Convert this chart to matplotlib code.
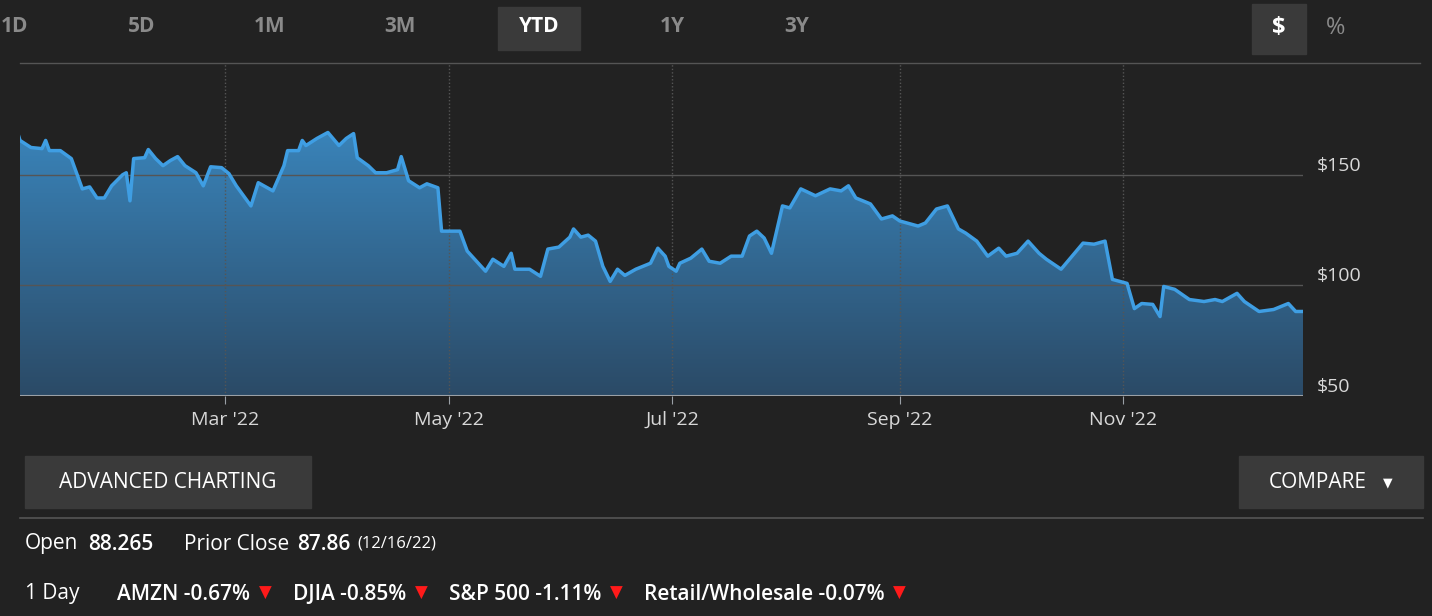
import matplotlib
matplotlib.use("Agg")
import matplotlib.pyplot as plt
import numpy as np
import datetime as dt
from matplotlib.patches import Rectangle
import matplotlib.dates as mdates
from matplotlib.colors import LinearSegmentedColormap

plt.rcParams['font.family'] = ['Open Sans', 'DejaVu Sans']

day_of_year = [3,4,7,10,11,12,15,18,21,23,25,27,29,32,33,34,35,38,39,41,43,45,47,49,52,54,56,59,61,63,67,69,73,76,77,80,81,82,85,88,91,93,95,96,99,101,104,107,108,110,113,115,118,119,124,126,129,131,133,136,138,139,143,146,148,151,154,155,157,159,161,163,165,167,169,172,176,178,180,181,183,184,187,190,192,195,198,201,203,205,207,209,212,214,217,221,225,228,230,232,236,239,242,244,249,251,254,257,260,262,265,268,271,273,276,279,282,284,288,291,294,297,300,302,306,308,310,313,315,316,319,323,327,330,332,336,338,342,346,350,352,355]
price = [170.9,165.5,162.3,161.8,165.5,160.9,160.9,157.3,143.6,144.5,139.5,139.5,145,150,150.9,138.2,157.3,157.7,161.4,157.3,154.1,156.4,158.2,154.1,150.9,145,153.6,153.2,150.5,145,135.9,146.4,142.7,154.1,160.9,160.9,165.5,163.2,166.4,169.1,163.2,166.4,168.6,157.7,154.1,150.9,150.9,152.3,158.2,147.3,144.1,145.9,144.1,124.5,124.5,115.5,110,106.4,111.8,108.6,114.5,107.3,107.3,104.1,116.4,117.3,121.8,125.5,121.8,122.7,120,108.6,101.8,107.3,104.5,107.3,110,116.8,113.2,108.6,106.4,110,112.3,116.4,110.9,110,113.2,113.2,122.3,124.5,121.4,114.5,135.9,135,143.6,140.5,143.6,142.7,145,139.5,136.8,130,131.4,129.1,126.8,128.2,134.5,135.9,125.5,123.6,120,113.2,116.8,113.2,114.5,120,114.5,111.8,107.3,113.2,119.1,118.6,120,102.7,100.9,89.5,91.8,91.4,85.9,99.5,98.2,93.6,92.7,93.6,92.7,96.4,92.7,88.2,89.1,91.8,88.2,88.2]
y_ticks = [50, 100, 150]
y_labels = ['$50', '$100', '$150']
month_ticks = ['2022-03-01', '2022-05-01', '2022-07-01', '2022-09-01', '2022-11-01']
month_labels = ["Mar '22", "May '22", "Jul '22", "Sep '22", "Nov '22"]
range_buttons = ['1D', '5D', '1M', '3M', 'YTD', '1Y', '3Y']

W, H = 1432, 616
BG = '#222222'
fig = plt.figure(figsize=(W/100, H/100), dpi=100, facecolor=BG)

def fx(x): return x / W
def fy(y): return 1 - y / H

dates = [dt.date(2022, 1, 1) + dt.timedelta(days=d - 1) for d in day_of_year]
xn = mdates.date2num(dates)

ax = fig.add_axes([fx(20), fy(396), fx(1303) - fx(20), fy(63) - fy(396)])
ax.set_facecolor(BG)
ax.set_xlim(mdates.date2num(dt.date(2022, 1, 4)), mdates.date2num(dt.date(2022, 12, 20)))
ax.set_ylim(50, 200.5)
for s in ax.spines.values():
    s.set_visible(False)
ax.axhline(50, color='#9aa0a6', lw=1.5, zorder=5)

x0, x1 = ax.get_xlim()
grad = np.linspace(0, 1, 256).reshape(-1, 1)
cmap = LinearSegmentedColormap.from_list('g', ['#2b4a66', '#3a86bd'])
im = ax.imshow(grad, extent=[x0, x1, 50, 175], origin='lower', aspect='auto', cmap=cmap, zorder=1)
poly = ax.fill_between(xn, price, 50, color='none')
im.set_clip_path(poly.get_paths()[0], transform=ax.transData)
ax.plot(xn, price, color='#3f9ee3', lw=2.5, zorder=4, solid_joinstyle='round')
ax.set_xlim(x0, x1)

for t in y_ticks[1:]:
    ax.axhline(t, color='#555555', lw=1, zorder=2)
for m in month_ticks:
    ax.axvline(mdates.date2num(dt.date.fromisoformat(m)), color='#555555', lw=1, ls=(0, (1, 1.5)), zorder=2)
ax.set_xticks([mdates.date2num(dt.date.fromisoformat(m)) for m in month_ticks])
ax.set_xticklabels(month_labels, color='#d8d8d8', fontsize=14)
ax.tick_params(axis='x', length=6, color='#9aa0a6', pad=5, direction='out')
ax.yaxis.tick_right()
ax.set_yticks(y_ticks)
ax.set_yticklabels(y_labels, color='#d8d8d8', fontsize=14)
ax.tick_params(axis='y', length=0, pad=10)
for lab in ax.get_yticklabels():
    lab.set_va('bottom')

fig.add_artist(plt.Line2D([fx(20), fx(1420)], [fy(63), fy(63)], color='#555555', lw=1))

bx = [15, 142, 270, 400, 539, 672, 797]
for lab, x in zip(range_buttons, bx):
    if lab == 'YTD':
        fig.add_artist(Rectangle((fx(498), fy(50)), fx(82), fy(7) - fy(50), color='#3a3a3a'))
        fig.text(fx(x), fy(27), lab, color='white', fontsize=15, fontweight='bold', ha='center', va='center')
    else:
        fig.text(fx(x), fy(27), lab, color='#8a8a8a', fontsize=15, fontweight='bold', ha='center', va='center')
fig.add_artist(Rectangle((fx(1252), fy(54)), fx(54), fy(4) - fy(54), color='#3a3a3a'))
fig.text(fx(1279), fy(28), '$', color='white', fontsize=17, fontweight='bold', ha='center', va='center')
fig.text(fx(1336), fy(28), '%', color='#8a8a8a', fontsize=17, ha='center', va='center')

fig.add_artist(Rectangle((fx(25), fy(508)), fx(286), fy(456) - fy(508), color='#3a3a3a'))
fig.text(fx(168), fy(482), 'ADVANCED CHARTING', color='white', fontsize=15, ha='center', va='center')
fig.add_artist(Rectangle((fx(1239), fy(508)), fx(184), fy(456) - fy(508), color='#3a3a3a'))
fig.text(fx(1318), fy(482), 'COMPARE', color='white', fontsize=15, ha='center', va='center')
fig.text(fx(1388), fy(483), '▼', color='white', fontsize=9, ha='center', va='center')
fig.add_artist(plt.Line2D([fx(20), fx(1423)], [fy(518), fy(518)], color='#555555', lw=1.2))

def seq(y, parts):
    x = 25
    r = fig.canvas.get_renderer()
    for txt, kw, gap in parts:
        t = fig.text(fx(x), fy(y), txt, va='center', ha='left', **kw)
        x += t.get_window_extent(renderer=r).width + gap

norm = dict(color='white', fontsize=15)
bold = dict(color='white', fontsize=15, fontweight='semibold')
seq(544, [('Open', norm, 10), ('88.265', bold, 30), ('Prior Close', norm, 8), ('87.86', bold, 7),
          ('(12/16/22)', dict(color='white', fontsize=12), 0)])
red = dict(color='#ff1a1a', fontsize=12)
seq(594, [('1 Day', norm, 38), ('AMZN -0.67%', bold, 8), ('▼', red, 22), ('DJIA -0.85%', bold, 8), ('▼', red, 22),
          ('S&P 500 -1.11%', bold, 8), ('▼', red, 22), ('Retail/Wholesale -0.07%', bold, 8), ('▼', red, 0)])

fig.savefig('out.png', dpi=100, facecolor=BG)
